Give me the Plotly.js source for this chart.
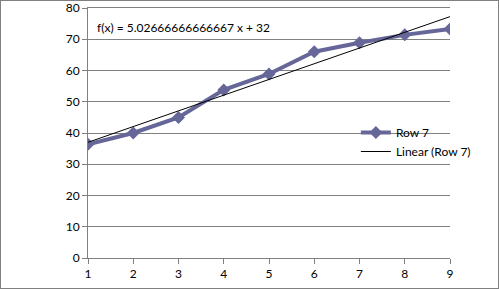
<!DOCTYPE html>
<html><head><meta charset="utf-8">
<script src="https://cdn.plot.ly/plotly-3.0.1.min.js"></script>
<style>html,body{margin:0;padding:0;background:#fff}#c{width:497px;height:287px;border:1px solid #808080}</style>
</head><body><div id="c"></div>
<script>
const xValues = [1, 2, 3, 4, 5, 6, 7, 8, 9];
const row7 = [36.4, 40, 45, 53.8, 58.9, 66, 68.9, 71.4, 73.3];
const yTicks = [0, 10, 20, 30, 40, 50, 60, 70, 80];
const trendSlope = 5.02666666666667;
const trendIntercept = 32;
const equationText = "f(x) = 5.02666666666667 x + 32";

const xMin = Math.min(...xValues), xMax = Math.max(...xValues);
const trendX = [xMin, xMax];
const trendY = trendX.map(x => trendSlope * x + trendIntercept);

const data = [
  {x: xValues, y: row7, name: "Row 7", mode: "lines+markers", type: "scatter",
   line: {color: "#666699", width: 4}, marker: {symbol: "diamond", size: 10, color: "#666699"}},
  {x: trendX, y: trendY, name: "Linear (Row 7)", mode: "lines", type: "scatter",
   line: {color: "#000000", width: 1}}
];
const layout = {
  width: 497, height: 287,
  margin: {l: 87, r: 48, t: 7, b: 30},
  paper_bgcolor: "#fff", plot_bgcolor: "#fff",
  font: {family: "Lato, 'DejaVu Sans', sans-serif", size: 12, color: "#000"},
  showlegend: true,
  legend: {x: 0.74, y: 0.56, xanchor: "left", yanchor: "top", bgcolor: "rgba(0,0,0,0)",
           font: {size: 12}, tracegroupgap: 4},
  xaxis: {range: [1, 9], tickvals: xValues, showgrid: false, zeroline: false,
          showline: true, mirror: true, linecolor: "#808080", ticks: "outside", ticklen: 5, tickcolor: "#808080",
          tickfont: {size: 12}},
  yaxis: {range: [0, 80], tickvals: yTicks, showgrid: true, gridcolor: "#808080", gridwidth: 1, zeroline: false,
          showline: true, linecolor: "#808080", ticks: "outside", ticklen: 5, tickcolor: "#808080",
          tickfont: {size: 12}},
  annotations: [{text: equationText, xref: "paper", yref: "paper", x: 0.02, y: 0.92,
                 xanchor: "left", yanchor: "middle", showarrow: false, font: {size: 12}}]
};
Plotly.newPlot("c", data, layout, {displayModeBar: false, staticPlot: true}).then(function(){
  document.querySelectorAll('.ytick text').forEach(e => { e.style.display = null; });
});
</script></body></html>
